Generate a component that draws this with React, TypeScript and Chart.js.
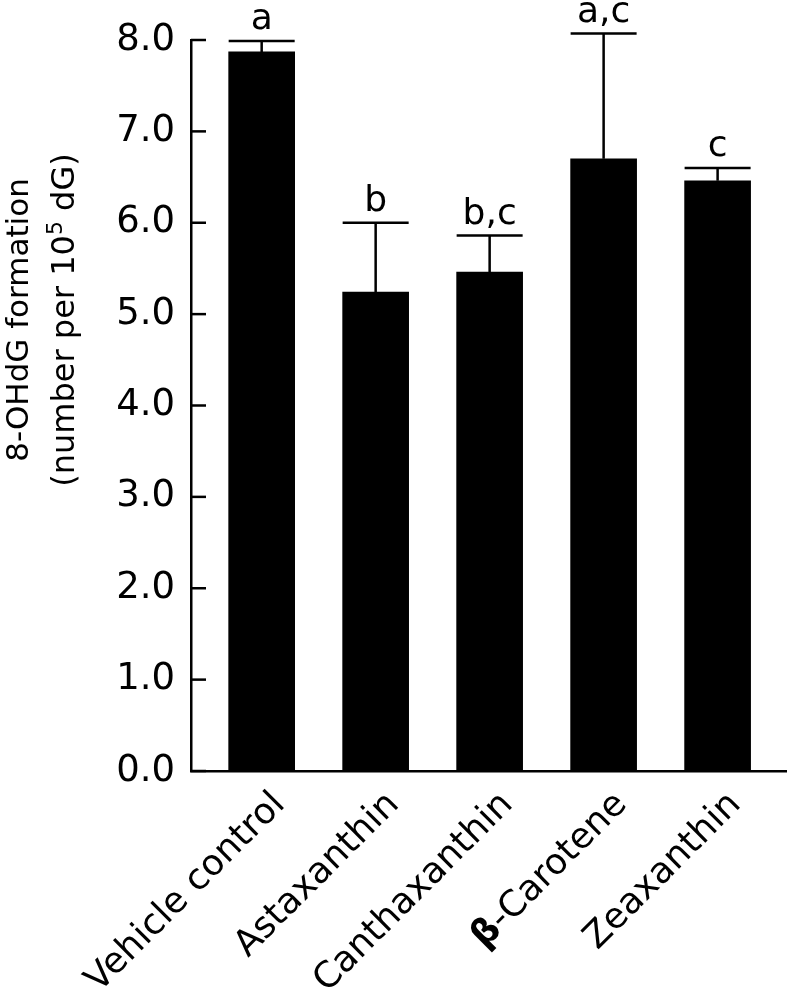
import React, { useEffect, useRef } from 'react';
import { Chart, registerables } from 'chart.js';

Chart.register(...registerables);

const categories = ['Vehicle control', 'Astaxanthin', 'Canthaxanthin', 'β-Carotene', 'Zeaxanthin'];
const means = [7.87, 5.24, 5.46, 6.7, 6.46];
const errors = [0.12, 0.76, 0.4, 1.37, 0.14];
const letters = ['a', 'b', 'b,c', 'a,c', 'c'];
const yMin = 0;
const yMax = 8;
const yStep = 1;
const titleLine1 = '8-OHdG formation';
const titleLine2Parts = ['(number per 10', '5', ' dG)'];

const FONT = "'DejaVu Sans', Verdana, sans-serif";

function drawLabel(ctx: CanvasRenderingContext2D, text: string, size: number) {
  const regular = `${size}px ${FONT}`;
  const bold = `bold ${size}px ${FONT}`;
  let head = '';
  let rest = text;
  if (text.startsWith('β')) {
    head = 'β';
    rest = text.slice(1);
  }
  ctx.font = regular;
  const wr = ctx.measureText(rest).width;
  ctx.font = bold;
  const wh = head ? ctx.measureText(head).width : 0;
  ctx.textAlign = 'left';
  let x = -(wr + wh);
  if (head) {
    ctx.font = bold;
    ctx.fillText(head, x, 0);
    x += wh;
  }
  ctx.font = regular;
  ctx.fillText(rest, x, 0);
}

const overlay = {
  id: 'overlay',
  afterDatasetsDraw(chart: any) {
    const ctx = chart.ctx as CanvasRenderingContext2D;
    const ys = chart.scales.y;
    const area = chart.chartArea;
    ctx.save();
    ctx.strokeStyle = '#000';
    ctx.fillStyle = '#000';
    ctx.lineWidth = 2.5;
    ys.ticks.forEach((t: any) => {
      const py = ys.getPixelForValue(t.value);
      ctx.beginPath();
      ctx.moveTo(area.left, py);
      ctx.lineTo(area.left + 15, py);
      ctx.stroke();
    });
    const meta = chart.getDatasetMeta(0);
    meta.data.forEach((bar: any, i: number) => {
      const cx = bar.x;
      const top = ys.getPixelForValue(means[i]);
      const up = ys.getPixelForValue(means[i] + errors[i]);
      const half = bar.width / 2;
      ctx.beginPath();
      ctx.moveTo(cx, top);
      ctx.lineTo(cx, up);
      ctx.moveTo(cx - half, up);
      ctx.lineTo(cx + half, up);
      ctx.stroke();
      ctx.font = `36px ${FONT}`;
      ctx.textAlign = 'center';
      ctx.textBaseline = 'alphabetic';
      ctx.fillText(letters[i], cx, up - 12);
    });
    ctx.restore();
  },
  afterDraw(chart: any) {
    const ctx = chart.ctx as CanvasRenderingContext2D;
    const xs = chart.scales.x;
    const area = chart.chartArea;
    ctx.save();
    ctx.fillStyle = '#000';
    categories.forEach((c, i) => {
      const px = xs.getPixelForValue(i);
      ctx.save();
      ctx.translate(px + 18, area.bottom + 28);
      ctx.rotate(-Math.PI / 4);
      ctx.textBaseline = 'middle';
      drawLabel(ctx, c, 36);
      ctx.restore();
    });
    const cy = 320;
    ctx.save();
    ctx.translate(28, cy);
    ctx.rotate(-Math.PI / 2);
    ctx.font = `31px ${FONT}`;
    ctx.textAlign = 'center';
    ctx.textBaseline = 'alphabetic';
    ctx.fillText(titleLine1, 0, 0);
    ctx.restore();
    ctx.save();
    ctx.translate(74, cy);
    ctx.rotate(-Math.PI / 2);
    ctx.textAlign = 'left';
    ctx.textBaseline = 'alphabetic';
    const big = `32px ${FONT}`;
    const small = `22px ${FONT}`;
    ctx.font = big;
    const w0 = ctx.measureText(titleLine2Parts[0]).width;
    const w2 = ctx.measureText(titleLine2Parts[2]).width;
    ctx.font = small;
    const w1 = ctx.measureText(titleLine2Parts[1]).width;
    let x = -(w0 + w1 + w2) / 2;
    ctx.font = big;
    ctx.fillText(titleLine2Parts[0], x, 0);
    x += w0;
    ctx.font = small;
    ctx.fillText(titleLine2Parts[1], x, -12);
    x += w1;
    ctx.font = big;
    ctx.fillText(titleLine2Parts[2], x, 0);
    ctx.restore();
    ctx.restore();
  },
};

export default function App() {
  const ref = useRef<HTMLCanvasElement>(null);
  useEffect(() => {
    if (!ref.current) return;
    const chart = new Chart(ref.current, {
      type: 'bar',
      data: {
        datasets: [
          {
            data: means.map((v, i) => ({ x: i, y: v })),
            backgroundColor: '#000',
            borderWidth: 0,
            barThickness: 66,
          },
        ],
      },
      options: {
        responsive: false,
        animation: false,
        layout: { padding: { left: 0, top: 40, right: 2, bottom: 0 } },
        plugins: { legend: { display: false }, tooltip: { enabled: false } },
        scales: {
          x: {
            type: 'linear',
            min: -0.62,
            max: 4.6,
            offset: false,
            afterBuildTicks: (s: any) => {
              s.ticks = categories.map((_, i) => ({ value: i }));
            },
            afterFit: (s: any) => {
              s.height = 226;
            },
            grid: { display: false, drawTicks: false },
            border: { display: true, color: '#000', width: 2.5 },
            ticks: { display: false },
          },
          y: {
            min: yMin,
            max: yMax,
            afterFit: (s: any) => {
              s.width = 191;
            },
            grid: { display: false, drawTicks: false },
            border: { display: true, color: '#000', width: 2.5 },
            ticks: {
              stepSize: yStep,
              padding: 16,
              color: '#000',
              font: { family: FONT, size: 37 },
              callback: (v: any) => Number(v).toFixed(1),
            },
          },
        },
      },
      plugins: [overlay],
    } as any);
    return () => chart.destroy();
  }, []);
  return (
    <div style={{ position: 'absolute', left: 0, top: 0, width: 788, height: 997, background: '#fff' }}>
      <canvas ref={ref} width={788} height={997} style={{ display: 'block' }} />
    </div>
  );
}
